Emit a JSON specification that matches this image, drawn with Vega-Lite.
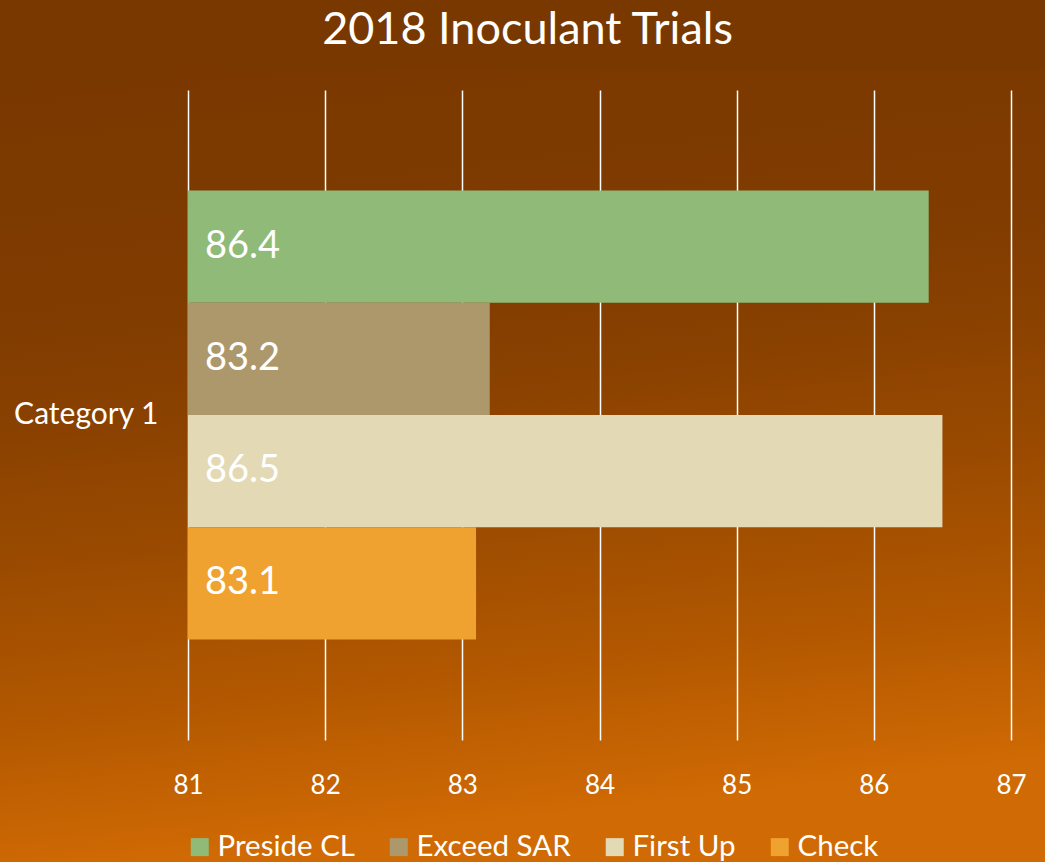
{
  "$schema": "https://vega.github.io/schema/vega-lite/v6.json",
  "width": 1045,
  "height": 792,
  "autosize": {"type": "none"},
  "padding": {"top": 70, "left": 0, "right": 0, "bottom": 0},
  "background": "#783800",
  "config": {
    "font": "Lato",
    "view": {
      "fill": {
        "gradient": "linear",
        "x1": 0, "y1": 0, "x2": 0.15, "y2": 1,
        "stops": [
          {"offset": 0, "color": "#793800"},
          {"offset": 0.33, "color": "#813c00"},
          {"offset": 0.46, "color": "#8b4200"},
          {"offset": 0.62, "color": "#9b4b00"},
          {"offset": 0.8, "color": "#b15700"},
          {"offset": 1, "color": "#d06a04"}
        ]
      },
      "stroke": null
    }
  },
  "title": {
    "text": "2018 Inoculant Trials",
    "color": "white",
    "font": "Lato",
    "fontSize": 45,
    "fontWeight": "normal",
    "anchor": "middle",
    "frame": "group",
    "baseline": "alphabetic",
    "offset": -19,
    "dx": 5
  },
  "data": {
    "values": [
      {"category": "Category 1", "series": "Preside CL", "value": 86.4},
      {"category": "Category 1", "series": "Exceed SAR", "value": 83.2},
      {"category": "Category 1", "series": "First Up", "value": 86.5},
      {"category": "Category 1", "series": "Check", "value": 83.1}
    ]
  },
  "encoding": {
    "y": {
      "field": "category",
      "type": "nominal",
      "scale": {"range": [20, 670], "paddingInner": 0, "paddingOuter": 0},
      "axis": {
        "orient": "left",
        "offset": -188,
        "title": null,
        "ticks": false,
        "domain": false,
        "grid": false,
        "labelPadding": 30,
        "labelFontSize": 30,
        "labelFont": "Lato",
        "labelColor": "white",
        "labelAngle": 0
      }
    },
    "yOffset": {
      "field": "series",
      "type": "nominal",
      "scale": {
        "domain": ["Preside CL", "Exceed SAR", "First Up", "Check"],
        "paddingInner": 0,
        "paddingOuter": 0.8953
      }
    }
  },
  "layer": [
    {
      "mark": {"type": "bar"},
      "encoding": {
        "x": {
          "field": "value",
          "type": "quantitative",
          "scale": {"domain": [81, 87], "range": [188, 1011], "nice": false, "zero": false},
          "axis": {
            "orient": "top",
            "offset": 0,
            "title": null,
            "values": [81, 82, 83, 84, 85, 86, 87],
            "format": "d",
            "ticks": false,
            "domain": false,
            "grid": true,
            "gridColor": "white",
            "gridWidth": 1.5,
            "gridOpacity": 1,
            "labelPadding": -723,
            "labelFlush": false,
            "labelAlign": "center",
            "labelBaseline": "alphabetic",
            "labelFontSize": 26,
            "labelFont": "Lato",
            "labelColor": "white"
          }
        },
        "x2": {"datum": 81},
        "color": {
          "field": "series",
          "type": "nominal",
          "scale": {
            "domain": ["Preside CL", "Exceed SAR", "First Up", "Check"],
            "range": ["#8fba78", "#ad986b", "#e3d9b4", "#efa22f"]
          },
          "legend": {
            "orient": "none",
            "legendX": 185,
            "legendY": 762,
            "direction": "horizontal",
            "columns": 4,
            "title": null,
            "padding": 0,
            "symbolType": "square",
            "symbolSize": 324,
            "symbolStrokeWidth": 0,
            "symbolOpacity": 1,
            "labelFontSize": 29.5,
            "labelFont": "Lato",
            "labelColor": "white",
            "labelOffset": 3,
            "columnPadding": 29
          }
        }
      }
    },
    {
      "mark": {"type": "text", "align": "left", "baseline": "middle", "dx": 17, "fontSize": 38, "font": "Lato", "color": "white"},
      "encoding": {
        "x": {"datum": 81, "type": "quantitative"},
        "text": {"field": "value", "type": "quantitative", "format": ".1f"}
      }
    }
  ]
}
